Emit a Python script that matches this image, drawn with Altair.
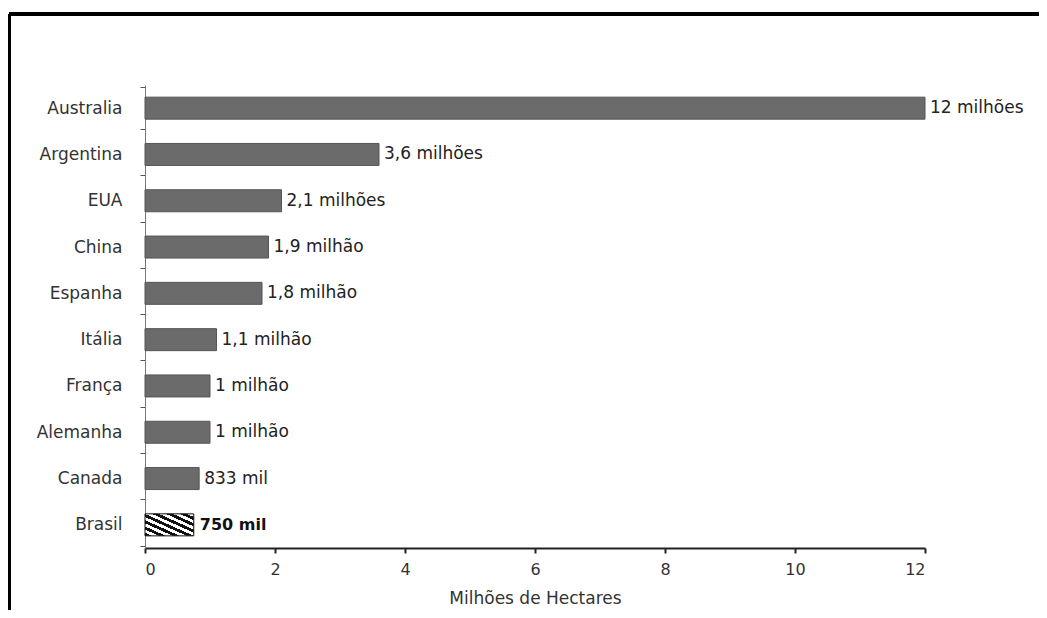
import altair as alt
import pandas as pd

countries = ["Australia", "Argentina", "EUA", "China", "Espanha", "Itália",
             "França", "Alemanha", "Canada", "Brasil"]
values = [12, 3.6, 2.1, 1.9, 1.8, 1.1, 1.0, 1.0, 0.833, 0.75]
labels = ["12 milhões", "3,6 milhões", "2,1 milhões", "1,9 milhão", "1,8 milhão",
          "1,1 milhão", "1 milhão", "1 milhão", "833 mil", "750 mil"]
x_ticks = [0, 2, 4, 6, 8, 10, 12]

df = pd.DataFrame({"pais": countries, "valor": values, "rotulo": labels})

FONT = "DejaVu Sans"
W, H = 780, 463
PAD = {"left": 137, "top": 77, "right": 114, "bottom": 62}

# hatched fill for Brasil (diagonal stripes via a hard-stop gradient)
n_stripes = 7
stops = []
for i in range(n_stripes):
    a = i / n_stripes
    m = (i + 0.5) / n_stripes
    b = (i + 1) / n_stripes
    stops += [{"offset": a, "color": "#111111"}, {"offset": m, "color": "#111111"},
              {"offset": m, "color": "#ffffff"}, {"offset": b, "color": "#ffffff"}]
hatch = {"gradient": "linear", "x1": 0, "y1": 1, "x2": 1, "y2": 0, "stops": stops}

y_enc = alt.Y("pais:N", sort=countries, title=None,
              axis=alt.Axis(labelFont=FONT, labelFontSize=17, labelColor="#333333",
                            domainColor="#777777", domainWidth=1,
                            tickColor="#555555", tickSize=5, tickBand="extent",
                            labelPadding=18))
x_enc = alt.X("valor:Q", title="Milhões de Hectares",
              scale=alt.Scale(domain=[0, 12], nice=False),
              axis=alt.Axis(values=x_ticks, format="d", grid=False, labelFont=FONT,
                            labelFontSize=16, labelColor="#333333",
                            domainColor="#222222", domainWidth=2,
                            tickColor="#222222", tickSize=5, tickWidth=2,
                            labelPadding=8, titleFont=FONT, titleFontSize=17,
                            titleFontWeight="normal", titleColor="#333333",
                            titlePadding=13))

base = alt.Chart(df)

bars = base.mark_bar(size=22, strokeWidth=1).encode(
    y=y_enc, x=x_enc,
    fill=alt.condition(alt.datum.pais == "Brasil", alt.value(hatch), alt.value("#6b6b6b")),
    stroke=alt.condition(alt.datum.pais == "Brasil", alt.value("#111111"), alt.value("#555555")),
)

txt = base.transform_filter(alt.datum.pais != "Brasil").mark_text(
    align="left", baseline="middle", dx=5, font=FONT, fontSize=17, color="#222222"
).encode(y=alt.Y("pais:N", sort=countries), x="valor:Q", text="rotulo:N")

txt_b = base.transform_filter(alt.datum.pais == "Brasil").mark_text(
    align="left", baseline="middle", dx=6, font=FONT, fontSize=16,
    fontWeight="bold", color="#111111"
).encode(y=alt.Y("pais:N", sort=countries), x="valor:Q", text="rotulo:N")

frame_top = alt.Chart(df).mark_rule(color="#000000", strokeWidth=3).encode(
    x=alt.value(-136), x2=alt.value(W + PAD["right"]), y=alt.value(-71))
frame_left = alt.Chart(df).mark_rule(color="#000000", strokeWidth=3).encode(
    x=alt.value(-136), y=alt.value(-71), y2=alt.value(H + PAD["bottom"]))

chart = alt.layer(bars, txt, txt_b, frame_top, frame_left).properties(
    width=W, height=H, padding=PAD,
    autosize=alt.AutoSizeParams(type="none"),
    background="#ffffff",
).configure_view(stroke=None)

chart.save("out.html", embed_options={"renderer": "svg", "actions": False})
